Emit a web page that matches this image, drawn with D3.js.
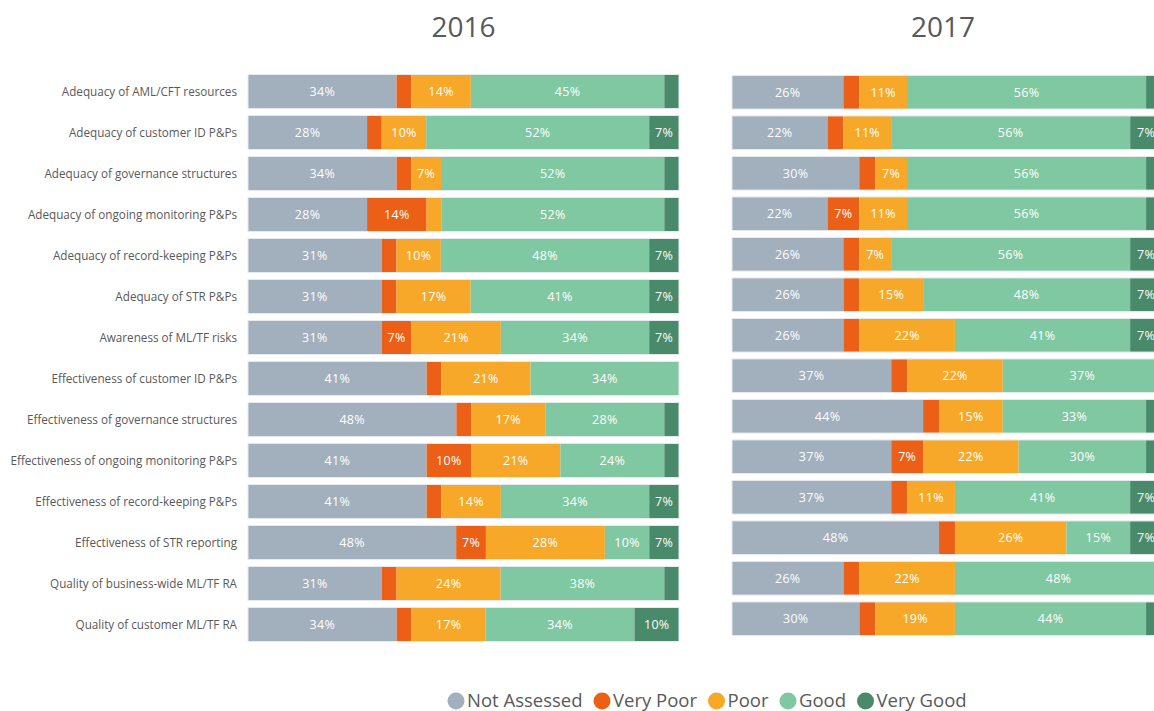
<!DOCTYPE html>
<html>
<head>
<meta charset="utf-8">
<script src="https://cdn.jsdelivr.net/npm/d3@7"></script>
<style>
  body { margin: 0; background: #fff; }
  svg { display: block; }
  text { font-family: "Open Sans", "Noto Sans", sans-serif; }
</style>
</head>
<body>
<svg id="chart" width="1154" height="711"></svg>
<script>
const categories = [
  'Adequacy of AML/CFT resources',
  'Adequacy of customer ID P&Ps',
  'Adequacy of governance structures',
  'Adequacy of ongoing monitoring P&Ps',
  'Adequacy of record-keeping P&Ps',
  'Adequacy of STR P&Ps',
  'Awareness of ML/TF risks',
  'Effectiveness of customer ID P&Ps',
  'Effectiveness of governance structures',
  'Effectiveness of ongoing monitoring P&Ps',
  'Effectiveness of record-keeping P&Ps',
  'Effectiveness of STR reporting',
  'Quality of business-wide ML/TF RA',
  'Quality of customer ML/TF RA'
];
const ratings = ['Not Assessed', 'Very Poor', 'Poor', 'Good', 'Very Good'];
const ratingColors = ['#a2afbc', '#ec5f17', '#f7a828', '#80c8a2', '#488a69'];

// percent per category, order: Not Assessed, Very Poor, Poor, Good, Very Good
const values2016 = [
  [34.4, 3.4, 13.8, 44.8, 3.4],
  [27.6, 3.4, 10.3, 51.7, 6.9],
  [34.4, 3.4, 6.9, 51.7, 3.4],
  [27.6, 13.8, 3.4, 51.7, 3.4],
  [31.0, 3.4, 10.3, 48.3, 6.9],
  [31.0, 3.4, 17.2, 41.4, 6.9],
  [31.0, 6.9, 20.7, 34.4, 6.9],
  [41.4, 3.4, 20.7, 34.4, 0],
  [48.3, 3.4, 17.2, 27.6, 3.4],
  [41.4, 10.3, 20.7, 24.1, 3.4],
  [41.4, 3.4, 13.8, 34.4, 6.9],
  [48.3, 6.9, 27.6, 10.3, 6.9],
  [31.0, 3.4, 24.1, 37.9, 3.4],
  [34.4, 3.4, 17.2, 34.4, 10.3]
];
const values2017 = [
  [25.9, 3.7, 11.1, 55.6, 3.7],
  [22.2, 3.7, 11.1, 55.6, 7.4],
  [29.6, 3.7, 7.4, 55.6, 3.7],
  [22.2, 7.4, 11.1, 55.6, 3.7],
  [25.9, 3.7, 7.4, 55.6, 7.4],
  [25.9, 3.7, 14.8, 48.1, 7.4],
  [25.9, 3.7, 22.2, 40.7, 7.4],
  [37.0, 3.7, 22.2, 37.0, 0],
  [44.4, 3.7, 14.8, 33.3, 3.7],
  [37.0, 7.4, 22.2, 29.6, 3.7],
  [37.0, 3.7, 11.1, 40.7, 7.4],
  [48.1, 3.7, 25.9, 14.8, 7.4],
  [25.9, 3.7, 22.2, 48.1, 0],
  [29.6, 3.7, 18.5, 44.4, 3.7]
];

const panels = [
  { year: '2016', values: values2016, x0: 248, x1: 679, y0: 71, y1: 645 },
  { year: '2017', values: values2017, x0: 732, x1: 1162, y0: 72, y1: 639 }
];

const svg = d3.select('#chart');
const textGrey = '#595959';
const color = d3.scaleOrdinal(ratings, ratingColors);

panels.forEach((p, pi) => {
  const rows = categories.map((c, i) => {
    const row = { category: c };
    ratings.forEach((r, j) => (row[r] = p.values[i][j]));
    return row;
  });
  const series = d3.stack().keys(ratings).offset(d3.stackOffsetExpand)(rows);

  const x = d3.scaleLinear().domain([0, 1]).range([p.x0, p.x1]);
  const y = d3
    .scaleBand()
    .domain(categories)
    .range([p.y0, p.y1])
    .paddingInner(0.17)
    .paddingOuter(0.085);

  const g = svg.append('g');

  g.append('text')
    .attr('x', (p.x0 + p.x1) / 2 - (pi ? 4 : 0))
    .attr('y', 37)
    .attr('text-anchor', 'middle')
    .attr('font-size', 28)
    .attr('fill', textGrey)
    .text(p.year);

  const layer = g
    .selectAll('g.layer')
    .data(series)
    .join('g')
    .attr('class', 'layer')
    .attr('fill', (d) => color(d.key));

  layer
    .selectAll('rect')
    .data((d) => d)
    .join('rect')
    .attr('x', (d) => x(d[0]))
    .attr('y', (d) => y(d.data.category))
    .attr('width', (d) => x(d[1]) - x(d[0]))
    .attr('height', y.bandwidth());

  // bar outline
  g.selectAll('rect.outline')
    .data(categories)
    .join('rect')
    .attr('class', 'outline')
    .attr('x', x(0))
    .attr('y', (d) => y(d))
    .attr('width', x(1) - x(0))
    .attr('height', y.bandwidth())
    .attr('fill', 'none')
    .attr('stroke', '#e6eaee')
    .attr('stroke-width', 1);

  layer
    .selectAll('text')
    .data((d) => d.filter((s) => s.data[d.key] >= 6.5).map((s) => ({ s, key: d.key })))
    .join('text')
    .attr('x', (d) => (x(d.s[0]) + x(d.s[1])) / 2)
    .attr('y', (d) => y(d.s.data.category) + y.bandwidth() / 2)
    .attr('dy', '0.35em')
    .attr('text-anchor', 'middle')
    .attr('font-family', 'Roboto, sans-serif')
    .attr('font-weight', 500)
    .attr('font-size', 12.5)
    .attr('letter-spacing', 0.3)
    .attr('fill', '#fff')
    .text((d) => Math.round(d.s.data[d.key]) + '%');

  if (pi === 0) {
    g.selectAll('text.cat')
      .data(categories)
      .join('text')
      .attr('class', 'cat')
      .attr('x', p.x0 - 11)
      .attr('y', (d) => y(d) + y.bandwidth() / 2)
      .attr('dy', '0.35em')
      .attr('text-anchor', 'end')
      .attr('font-size', 11.7)
      .attr('fill', textGrey)
      .text((d) => d);
  }
});

// legend: circle + label, laid out from measured text widths
const legend = svg.append('g').attr('transform', 'translate(0,701)');
const items = legend
  .selectAll('g')
  .data(ratings)
  .join('g');

items
  .append('circle')
  .attr('r', 8.5)
  .attr('fill', (d) => color(d));

items
  .append('text')
  .attr('x', 11)
  .attr('dy', '0.35em')
  .attr('font-size', 18.5)
  .attr('fill', textGrey)
  .text((d) => d);

let cx = 456;
items.each(function () {
  const w = d3.select(this).select('text').node().getComputedTextLength();
  d3.select(this).attr('transform', `translate(${cx},0)`);
  cx += 11 + w + 19.5;
});
</script>
</body>
</html>
